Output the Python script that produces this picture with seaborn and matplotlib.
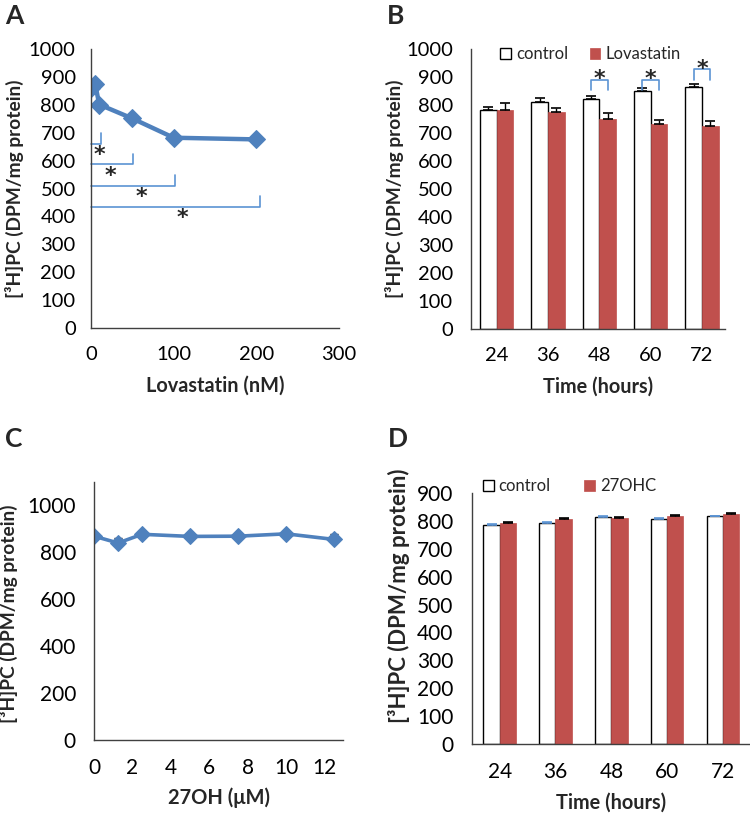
import matplotlib
matplotlib.use("Agg")
import matplotlib.pyplot as plt
import numpy as np
import pandas as pd
import seaborn as sns

# ---- Panel A: lovastatin dose response
lova_dose = [0, 5, 10, 50, 100, 200]
lova_pc = [862, 875, 801, 751, 682, 676]
# significance brackets (from 0 nM to each dose)
sig_a_end = [12, 51, 102, 204]
sig_a_y = [661, 588, 510, 435]
sig_a_star_x = [10, 23, 61, 111]

# ---- Panel B: lovastatin time course
time_h = ["24", "36", "48", "60", "72"]
b_control = [781, 811, 820, 849, 863]
b_control_err = [13, 14, 12, 12, 11]
b_lova = [781, 775, 751, 732, 724]
b_lova_err = [27, 15, 20, 16, 18]
sig_b_idx = [2, 3, 4]
sig_b_top = [889, 889, 928]
sig_b_foot = [852, 852, 889]

# ---- Panel C: 27OH dose response
oh_dose = [0, 1.25, 2.5, 5, 7.5, 10, 12.5]
oh_pc = [869, 840, 877, 868, 869, 879, 855]
oh_err = [4, 20, 5, 5, 10, 10, 25]

# ---- Panel D: 27OHC time course
d_control = [785, 794, 814, 807, 816]
d_control_err = [3, 3, 3, 3, 3]
d_ohc = [793, 807, 810, 817, 825]
d_ohc_err = [3, 3, 3, 3, 3]

BLUE = "#4f81bd"
LIGHT_BLUE = "#5b93d3"
RED = "#c0504d"
AXIS = "#404040"
YLAB = "[³H]PC (DPM/mg protein)"

sns.set_style("white")
plt.rcParams["font.family"] = ["Lato", "DejaVu Sans"]

fig = plt.figure(figsize=(7.5, 8.13), dpi=100)
W, H = 750, 813


def add_axes(left, top, right, bottom):
    return fig.add_axes([left / W, 1 - bottom / H, (right - left) / W, (bottom - top) / H])


def style_axes(ax, size, tick_len=0, pad=14):
    sns.despine(ax=ax)
    for s in ["left", "bottom"]:
        ax.spines[s].set_color(AXIS)
        ax.spines[s].set_linewidth(1.0)
    ax.tick_params(axis="both", labelsize=size, length=tick_len, color=AXIS,
                   direction="out", pad=pad, labelcolor="black")
    ax.grid(False)


def star(ax, x, y):
    # y is where the centre of the asterisk glyph should sit
    ax.annotate("*", xy=(x, y), xytext=(0, -6.5), textcoords="offset points",
                ha="center", va="baseline", fontsize=16, fontweight="bold",
                family="DejaVu Sans", annotation_clip=False)


def bar_panel(ax, ctrl, ctrl_err, trt, trt_err, trt_name, width, err_colors):
    df = pd.DataFrame({
        "time": time_h * 2,
        "value": ctrl + trt,
        "group": ["control"] * len(time_h) + [trt_name] * len(time_h),
    })
    sns.barplot(data=df, x="time", y="value", hue="group", ax=ax,
                palette={"control": "white", trt_name: RED}, width=width,
                errorbar=None, legend=False, saturation=1)
    for bar in ax.containers[0]:
        bar.set_edgecolor("black")
        bar.set_linewidth(1.0)
    for bar in ax.containers[1]:
        bar.set_edgecolor(RED)
        bar.set_linewidth(0.5)
    centers = []
    for cont, vals, errs, col in zip(ax.containers, [ctrl, trt], [ctrl_err, trt_err], err_colors):
        xs = [b.get_x() + b.get_width() / 2 for b in cont]
        centers.append(xs)
        ax.errorbar(xs, vals, yerr=[np.zeros(len(errs)), errs], fmt="none",
                    ecolor=col, elinewidth=1.0, capsize=3.5, capthick=1.2)
    return centers


# ================= A
axA = add_axes(91, 49, 339, 328)
sns.lineplot(x=lova_dose, y=lova_pc, ax=axA, color=BLUE, linewidth=3.2,
             marker="D", markersize=9.5, markeredgecolor=BLUE)
axA.set_xlim(0, 300)
axA.set_ylim(0, 1000)
axA.set_xticks([0, 100, 200, 300])
axA.set_yticks(range(0, 1001, 100))
style_axes(axA, 14.5, tick_len=4, pad=7)
axA.tick_params(axis="x", pad=9)
for x_end, y0, sx in zip(sig_a_end, sig_a_y, sig_a_star_x):
    axA.plot([0, x_end, x_end], [y0, y0, y0 + 37], color=LIGHT_BLUE,
             linewidth=1.2, clip_on=False)
    star(axA, sx, y0 - 31)
axA.set_xlabel("Lovastatin (nM)", fontsize=14.3, fontweight="bold")
axA.set_ylabel(YLAB, fontsize=13.8, fontweight="bold")
axA.xaxis.set_label_coords(0.5, -0.17)
axA.yaxis.set_label_coords(-0.272, 0.5)

# ================= B
axB = add_axes(471, 49, 725, 329)
cB = bar_panel(axB, b_control, b_control_err, b_lova, b_lova_err,
               "Lovastatin", 0.65, ["black", "black"])
axB.set_xlim(-0.5, 4.45)
axB.set_ylim(0, 1000)
axB.set_yticks(range(0, 1001, 100))
style_axes(axB, 14.5, pad=13)
for i, top, foot in zip(sig_b_idx, sig_b_top, sig_b_foot):
    x0, x1 = cB[0][i], cB[1][i]
    axB.plot([x0, x0, x1, x1], [foot, top, top, foot], color=LIGHT_BLUE, linewidth=1.2)
    star(axB, (x0 + x1) / 2, top + 13)
hB = [axB.containers[0][0], axB.containers[1][0]]
axB.legend(hB, ["control", "Lovastatin"], loc="center", bbox_to_anchor=(0.47, 0.982),
           ncol=2, frameon=False, fontsize=12, handlelength=0.65, handleheight=0.65,
           handletextpad=0.3, columnspacing=1.3, borderpad=0)
axB.set_xlabel("Time (hours)", fontsize=14.3, fontweight="bold")
axB.set_ylabel(YLAB, fontsize=13.8, fontweight="bold")
axB.xaxis.set_label_coords(0.5, -0.17)
axB.yaxis.set_label_coords(-0.262, 0.5)

# ================= C
axC = add_axes(94, 482, 343, 740)
axC.errorbar(oh_dose, oh_pc, yerr=[np.zeros(len(oh_err)), oh_err], fmt="none",
             ecolor="black", elinewidth=1.0, capsize=3, zorder=1)
sns.lineplot(x=oh_dose, y=oh_pc, ax=axC, color=BLUE, linewidth=2.6,
             marker="D", markersize=8.5, markeredgecolor=BLUE, zorder=2)
axC.set_xlim(0, 12.95)
axC.set_ylim(0, 1100)
axC.set_xticks(range(0, 13, 2))
axC.set_yticks(range(0, 1001, 200))
style_axes(axC, 15, pad=13)
axC.set_xlabel("27OH (μM)", fontsize=14.5, fontweight="bold")
axC.set_ylabel(YLAB, fontsize=13.8, fontweight="bold")
axC.xaxis.set_label_coords(0.5, -0.185)
axC.yaxis.set_label_coords(-0.305, 0.49)

# ================= D
axD = add_axes(471.7, 493, 751, 744)
bar_panel(axD, d_control, d_control_err, d_ohc, d_ohc_err,
          "27OHC", 0.58, [LIGHT_BLUE, "black"])
axD.set_xlim(-0.5, 4.5)
axD.set_ylim(0, 900)
axD.set_yticks(range(0, 901, 100))
style_axes(axD, 15, pad=13)
hD = [axD.containers[0][0], axD.containers[1][0]]
axD.legend(hD, ["control", "27OHC"], loc="center", bbox_to_anchor=(0.35, 1.026),
           ncol=2, frameon=False, fontsize=12, handlelength=0.65, handleheight=0.65,
           handletextpad=0.3, columnspacing=2.0, borderpad=0)
axD.set_xlabel("Time (hours)", fontsize=14.3, fontweight="bold")
axD.set_ylabel(YLAB, fontsize=16, fontweight="bold")
axD.xaxis.set_label_coords(0.5, -0.195)
axD.yaxis.set_label_coords(-0.22, 0.59)

# panel letters
for lab, x, y in [("A", 5, 4), ("B", 387, 4), ("C", 5, 427), ("D", 388, 427)]:
    fig.text(x / W, 1 - y / H, lab, ha="left", va="top", fontsize=19, fontweight="bold")

fig.savefig("out.png", dpi=100)
